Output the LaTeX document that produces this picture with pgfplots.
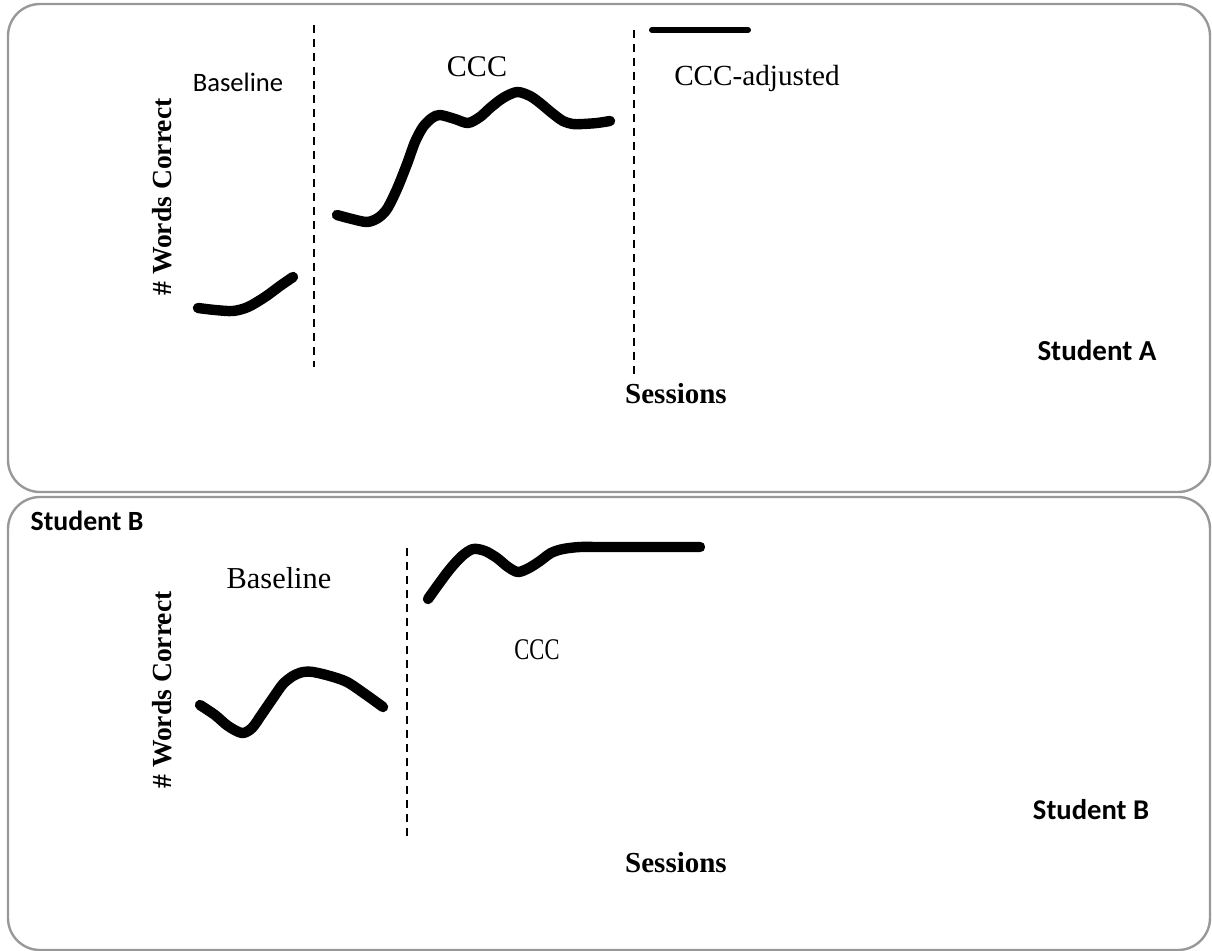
\documentclass[border=0pt]{standalone}
\usepackage{fontspec}
\setmainfont{Carlito}
\newfontfamily\cambria{Liberation Serif}
\usepackage{pgfplots}
\pgfplotsset{compat=1.18}
\definecolor{framegray}{RGB}{152,152,152}

% one pixel of the reference = 0.5pt
\pgfplotsset{
  panel/.style={
    scale only axis, width=606pt,
    xmin=0, xmax=1212, y dir=reverse,
    axis lines=none, clip=false,
  },
  curve/.style={line width=5.2pt, smooth, line cap=round, line join=round, black},
  phase/.style={line width=1pt, dash pattern=on 4pt off 3pt, black},
}

\begin{document}
\begin{tikzpicture}
% ---- Student A ----
\begin{axis}[panel, at={(0,0)}, anchor=north west, height=246.5pt, ymin=0, ymax=493]
\draw[framegray, line width=1.2pt, rounded corners=16pt] (axis cs:8,4) rectangle (axis cs:1210,492);
% baseline
\addplot[curve] coordinates {(198,308) (215,310) (233,311) (248,307) (265,297) (280,286) (293,277)};
% CCC
\addplot[curve] coordinates {
(337,215) (352,219) (367,222) (378,218) (387,209) (397,189) (407,164) (415,142)
(423,127) (432,118) (440,115) (455,119) (468,123) (480,117) (490,108) (503,98)
(517,92) (530,96) (540,103) (552,113) (563,121) (573,124) (583,124) (597,123) (610,121)};
% CCC-adjusted
\addplot[line width=3pt, line cap=round, black] coordinates {(652,30) (748,30)};
% phase change lines
\addplot[phase] coordinates {(314,25) (314,367)};
\addplot[phase] coordinates {(634,30) (634,374)};
\node[font=\fontsize{13.3}{16}\selectfont] at (axis cs:238,82) {Baseline};
\node[font=\cambria\fontsize{15}{18}\selectfont] at (axis cs:477,67) {CCC};
\node[font=\cambria\fontsize{14.6}{18}\selectfont] at (axis cs:757,78) {CCC-adjusted};
\node[rotate=90, font=\cambria\bfseries\fontsize{13.8}{16}\selectfont] at (axis cs:162,197) {\# Words Correct};
\node[font=\bfseries\fontsize{14.5}{17}\selectfont] at (axis cs:1097,350) {Student A};
\node[font=\cambria\bfseries\fontsize{14.5}{17}\selectfont] at (axis cs:676,394) {Sessions};
\end{axis}
% ---- Student B ----
\begin{axis}[panel, at={(0,-246.5pt)}, anchor=north west, height=229pt, ymin=493, ymax=951]
\draw[framegray, line width=1.2pt, rounded corners=16pt] (axis cs:8,497) rectangle (axis cs:1210,950);
% baseline
\addplot[curve] coordinates {
(200,705) (215,715) (228,726) (242,733) (252,728) (262,714) (273,698) (283,684)
(293,676) (303,672) (313,672) (330,676) (347,682) (365,694) (383,707)};
% CCC
\addplot[curve] coordinates {
(428,599) (438,585) (450,569) (462,556) (473,549) (485,551) (497,558) (508,567)
(518,572) (529,568) (540,561) (551,553) (563,549) (580,547) (600,547) (650,547) (700,547)};
% phase change line
\addplot[phase] coordinates {(407,548) (407,840)};
\node[font=\bfseries\fontsize{13.9}{17}\selectfont] at (axis cs:87,521) {Student B};
\node[font=\cambria\fontsize{15.2}{18}\selectfont] at (axis cs:279,578) {Baseline};
\node[font=\cambria\fontsize{15}{18}\selectfont, xscale=0.75] at (axis cs:537,650) {CCC};
\node[rotate=90, font=\cambria\bfseries\fontsize{13.8}{16}\selectfont] at (axis cs:162,690) {\# Words Correct};
\node[font=\bfseries\fontsize{14.3}{17}\selectfont] at (axis cs:1091,810) {Student B};
\node[font=\cambria\bfseries\fontsize{14.5}{17}\selectfont] at (axis cs:676,863) {Sessions};
\end{axis}
\pgfresetboundingbox
\useasboundingbox (0,-475.5pt) rectangle (606pt,0);
\end{tikzpicture}
\end{document}
